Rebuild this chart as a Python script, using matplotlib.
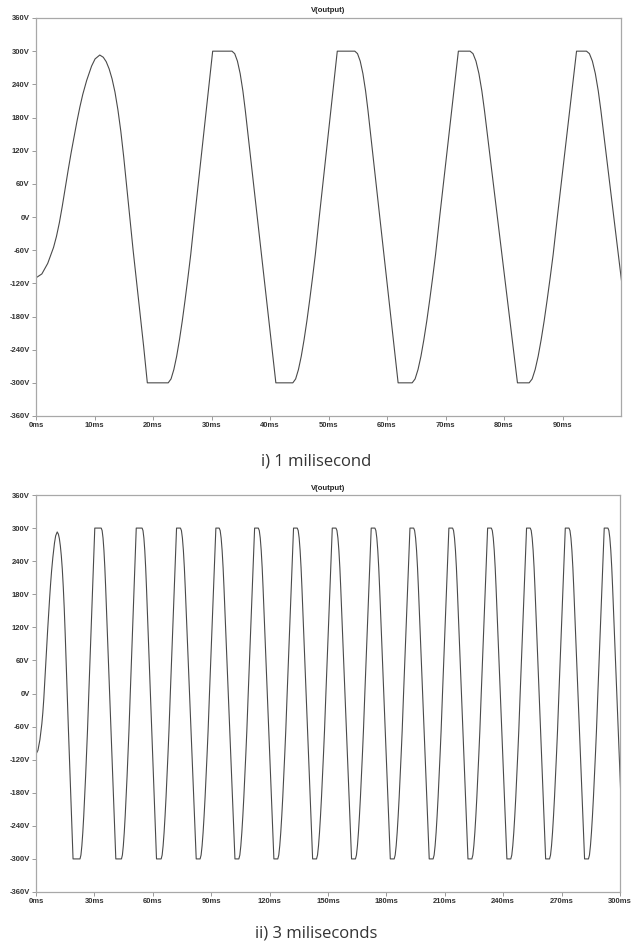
import matplotlib.pyplot as plt

# V(output), times in ms, volts in V

# first swing, before the clipping sets in
start_t = [0, 1.0, 2.0, 3.0, 3.5, 4.0, 4.5, 5.0, 5.5, 6.0, 6.5, 7.0, 7.5, 8.0, 8.66, 9.5,
           10.1, 10.9, 11.5, 12.0, 12.5, 13.0, 13.5, 14.0, 14.5, 15.0, 15.5, 16.0, 16.6,
           17.2, 17.8, 18.4, 19.03]
start_v = [-110, -103, -84, -55, -35, -10, 20, 53, 85, 116, 145, 173, 199, 222, 247, 273,
           286, 293, 289, 281, 268, 250, 226, 194, 155, 108, 55, 0, -60, -118, -176,
           -234, -300]

# clipped flats at -300 V and +300 V (start / end, ms)
low_start = [19.03, 41.0, 61.9, 82.3, 102.2, 122.2, 142.1, 162.1, 182.0, 202.0, 221.9,
             241.9, 261.8, 281.8, 301.7]
low_end = [22.6, 43.9, 64.3, 84.3, 104.2, 124.2, 144.1, 164.1, 184.0, 204.0, 223.9,
           243.9, 263.8, 283.8, 303.7]
high_start = [30.2, 51.5, 72.2, 92.4, 112.3, 132.3, 152.2, 172.2, 192.1, 212.1, 232.0,
              252.0, 271.9, 291.9]
high_end = [33.5, 54.5, 74.2, 94.1, 114.2, 134.2, 154.1, 174.1, 194.0, 214.0, 233.9,
            253.9, 273.8, 293.8]

# edge shapes between flats (ms after the flat ends)
fall_dt = [0, 0.5, 1.0, 1.5, 2.0, 2.44, 5.2, 8.04]
fall_v = [300, 295.5, 282, 259.5, 228, 193, -50, -300]
rise_dt = [0, 0.5, 1.0, 1.5, 2.0, 2.5, 3.0, 3.5, 4.0, 4.7, 7.9]
rise_v = [-300, -293, -276, -252, -222, -188, -150, -110, -68, 0, 300]

# put the trace together: first swing, then flat - edge - flat ...
flats = [(s, e, -300) for s, e in zip(low_start, low_end)]
flats += [(s, e, 300) for s, e in zip(high_start, high_end)]
flats.sort()

t = list(start_t[:-1])
v = list(start_v[:-1])
for i, (s, e, level) in enumerate(flats):
    t += [s, e]
    v += [level, level]
    if i + 1 < len(flats):
        gap = flats[i + 1][0] - e
        if level > 0:
            dts, vs = fall_dt, fall_v
        else:
            dts, vs = rise_dt, rise_v
        k = gap / dts[-1]
        for dt, val in zip(dts[1:-1], vs[1:-1]):
            t.append(e + dt * k)
            v.append(val)

volt_ticks = list(range(-360, 361, 60))
volt_labels = ["%dV" % x for x in volt_ticks]

fig = plt.figure(figsize=(6.33, 9.42), dpi=100)

panels = [
    # axes rect, x range, x ticks, caption, caption y, title y
    ([36 / 633, 1 - 416 / 942, 585 / 633, 398 / 942], 100, list(range(0, 91, 10)),
     "i) 1 milisecond", 1 - 462 / 942, 1 - 11 / 942),
    ([36 / 633, 1 - 892 / 942, 584 / 633, 397 / 942], 300, list(range(0, 301, 30)),
     "ii) 3 miliseconds", 1 - 933 / 942, 1 - 488 / 942),
]

for rect, xmax, xticks, caption, cap_y, title_y in panels:
    ax = fig.add_axes(rect)
    ax.plot(t, v, color="#4a4a4a", lw=0.8)
    ax.set_xlim(0, xmax)
    ax.set_ylim(-360, 360)
    ax.set_xticks(xticks)
    ax.set_xticklabels(["%dms" % x for x in xticks])
    ax.set_yticks(volt_ticks)
    ax.set_yticklabels(volt_labels)
    ax.tick_params(direction="out", length=3, width=0.7, color="#9a9a9a",
                   labelsize=5.5, labelcolor="#333333", pad=1.5)
    for lab in ax.get_xticklabels() + ax.get_yticklabels():
        lab.set_fontweight("bold")
        lab.set_family("Liberation Sans")
    for sp in ax.spines.values():
        sp.set_color("#a8a8a8")
        sp.set_linewidth(0.9)

    fig.text(rect[0] + rect[2] / 2, title_y, "V(output)", ha="center", va="center",
             fontsize=5.5, fontweight="bold", color="#222222", family="Liberation Sans")
    fig.text(0.5, cap_y, caption, ha="center", va="center", fontsize=12,
             color="#333333", family="Open Sans")

fig.savefig("out.png", dpi=100, facecolor="white")
